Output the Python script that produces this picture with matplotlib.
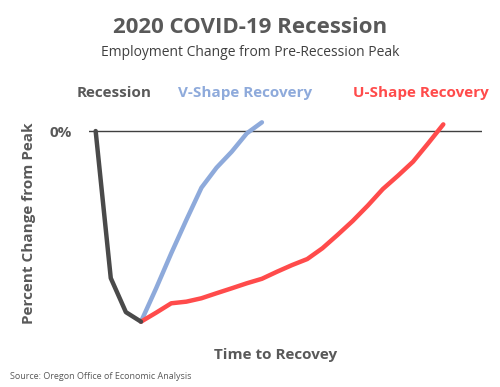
import numpy as np
import matplotlib.pyplot as plt

plt.rcParams['font.family'] = ['Open Sans', 'DejaVu Sans']

# data (percent change from peak, arbitrary time steps)
rec_x = [0, 1, 2, 3]
rec_y = [0.0, -10.8, -13.3, -14.0]

v_x = [3, 4, 5, 6, 7, 8, 9, 10, 11]
v_y = [-14.0, -11.55, -8.98, -6.53, -4.16, -2.69, -1.52, -0.17, 0.64]

u_x = list(range(3, 24))
u_y = [-14.0, -13.34, -12.65, -12.53, -12.28, -11.91, -11.55, -11.18, -10.85,
       -10.33, -9.84, -9.40, -8.61, -7.63, -6.61, -5.48, -4.26, -3.28, -2.25,
       -0.90, 0.49]

gray = '#595959'
c_rec = '#4a4a4a'
c_v = '#8eaadb'
c_u = '#ff4b4b'

fig = plt.figure(figsize=(5, 3.87), dpi=100)
ax = fig.add_axes([0.178, 0.1336, 0.786, 0.563])

ax.axhline(0, color='#404040', lw=1.0, zorder=1)
ax.plot(rec_x, rec_y, color=c_rec, lw=3.2, solid_capstyle='round', zorder=3)
ax.plot(v_x, v_y, color=c_v, lw=3.2, solid_capstyle='round', zorder=2)
ax.plot(u_x, u_y, color=c_u, lw=3.2, solid_capstyle='round', zorder=2)

ax.set_xlim(-0.44, 25.56)
ax.set_ylim(-15, 1)
for s in ax.spines.values():
    s.set_visible(False)
ax.set_xticks([])
ax.set_yticks([0])
ax.set_yticklabels(['0%'], fontsize=11, fontweight='bold', color=gray)
ax.tick_params(axis='y', length=0, pad=12)

ax.set_ylabel('Percent Change from Peak', fontsize=11, fontweight='bold', color=gray)
ax.yaxis.set_label_coords(-0.135, 0.515)

fig.text(0.5, 0.928, '2020 COVID-19 Recession', ha='center', va='center',
         fontsize=16, fontweight='bold', color=gray)
fig.text(0.5, 0.865, 'Employment Change from Pre-Recession Peak', ha='center', va='center',
         fontsize=10, color='#404040')

fig.text(0.228, 0.76, 'Recession', ha='center', va='center', fontsize=11, fontweight='bold', color=gray)
fig.text(0.49, 0.76, 'V-Shape Recovery', ha='center', va='center', fontsize=11, fontweight='bold', color=c_v)
fig.text(0.841, 0.76, 'U-Shape Recovery', ha='center', va='center', fontsize=11, fontweight='bold', color=c_u)

fig.text(0.552, 0.082, 'Time to Recovey', ha='center', va='center',
         fontsize=11, fontweight='bold', color=gray)
fig.text(0.02, 0.026, 'Source: Oregon Office of Economic Analysis', ha='left', va='center',
         fontsize=6.5, color=gray)

fig.savefig('out.png', dpi=100)
